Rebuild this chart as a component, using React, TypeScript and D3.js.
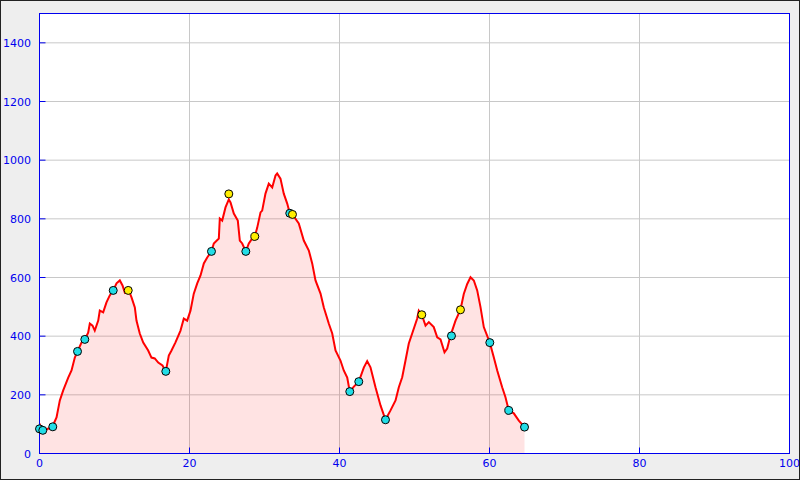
import * as d3 from "d3"
import React from "react"

// profile: distance (x) and elevation (y)
const distance = [
  0, 0.4, 0.93, 1.73, 2.27, 2.71, 3.16, 3.83, 4.27, 4.71, 5.07, 5.6, 6.04, 6.49, 6.71, 7.07, 7.37, 7.83,
  8.04, 8.49, 8.93, 9.37, 9.83, 10.27, 10.71, 11.07, 11.37, 11.83, 12.27, 12.71, 12.93, 13.37, 13.83,
  14.49, 14.93, 15.37, 15.83, 16.4, 16.84, 17.24, 17.6, 18.13, 18.8, 19.24, 19.69, 20.13, 20.57, 21.03,
  21.47, 21.91, 22.36, 22.93, 23.24, 23.91, 24.04, 24.36, 24.8, 25.24, 25.47, 25.91, 26.44, 26.71, 27.03,
  27.51, 27.91, 28.36, 28.71, 29.03, 29.47, 29.69, 30.13, 30.57, 31.03, 31.47, 31.69, 32.13, 32.57, 33.03,
  33.37, 33.73, 34.57, 35.24, 35.91, 36.36, 36.8, 37.47, 37.91, 38.57, 39.03, 39.47, 40.13, 40.57, 41.03,
  41.37, 41.91, 42.57, 43.24, 43.69, 44.13, 44.8, 45.47, 46.13, 46.8, 47.47, 47.91, 48.36, 48.8, 49.24,
  49.69, 50.36, 50.57, 50.97, 51.47, 51.91, 52.57, 53.03, 53.47, 54.0, 54.36, 54.8, 55.47, 56.13, 56.57,
  57.03, 57.47, 57.91, 58.36, 58.8, 59.24, 60.04, 60.57, 61.03, 61.69, 62.13, 62.57, 63.24, 63.91, 64.67,
]
const elevation = [
  102, 78, 82, 92, 123, 181, 215, 259, 283, 327, 348, 378, 389, 412, 443, 436, 419, 453,
  487, 481, 515, 539, 556, 580, 590, 573, 549, 560, 532, 498, 453, 409, 378,
  351, 327, 324, 310, 300, 280, 334, 351, 379, 419, 460, 453, 487, 545, 580,
  607, 648, 668, 689, 716, 733, 801, 794, 839, 866, 856, 818, 794, 726, 716,
  689, 716, 733, 740, 770, 822, 828, 886, 920, 907, 948, 955, 937, 886, 852,
  819, 815, 784, 726, 692, 648, 590, 545, 498, 443, 409, 351, 317, 283, 259,
  211, 228, 245, 293, 315, 294, 226, 164, 115, 147, 181, 226, 260, 317, 375,
  409, 460, 487, 473, 436, 448, 431, 396, 389, 345, 358, 402, 453, 490, 544,
  578, 601, 590, 556, 499, 431, 378, 328, 283, 226, 192, 147, 137, 112, 90,
]

// waypoint markers
const cyanX = [0, 0.44, 1.77, 5.07, 6.04, 9.83, 16.84, 22.93, 27.51, 33.37, 41.37, 42.57, 46.13, 54.93, 60.04, 62.57, 64.67]
const cyanY = [84, 79, 91, 348, 389, 556, 280, 689, 689, 819, 211, 245, 115, 401, 378, 147, 90]
const yellowX = [11.83, 25.24, 28.71, 33.73, 50.97, 56.13]
const yellowY = [556, 885, 740, 815, 473, 490]

const xTicks = [0, 20, 40, 60, 80, 100]
const yTicks = [0, 200, 400, 600, 800, 1000, 1200, 1400]

const width = 800
const height = 480

const drawProfile = (node: SVGSVGElement) => {
  const svg = d3.select(node)
  svg.selectAll("*").remove()

  const x = d3.scaleLinear([0, 100], [39.5, 789.5])
  const y = d3.scaleLinear([0, 1500], [453.5, 13.5])
  const font = "DejaVu Sans, sans-serif"
  const axisColor = "#0000ee"

  // page background and frame
  svg.append("rect")
    .attr("x", 0.5).attr("y", 0.5)
    .attr("width", width - 1).attr("height", height - 1)
    .attr("fill", "#eeeeee")
    .attr("stroke", "#222")

  svg.append("rect")
    .attr("x", x(0)).attr("y", y(1500))
    .attr("width", x(100) - x(0)).attr("height", y(0) - y(1500))
    .attr("fill", "#fff")

  // grid
  const grid = svg.append("g").attr("stroke", "#c8c8c8").attr("stroke-width", 1)
  grid.selectAll("line.h")
    .data(yTicks.filter(d => d > 0))
    .join("line")
    .attr("x1", x(0)).attr("x2", x(100))
    .attr("y1", d => y(d)).attr("y2", d => y(d))
  grid.selectAll("line.v")
    .data(xTicks.filter(d => d > 0 && d < 100))
    .join("line")
    .attr("y1", y(0)).attr("y2", y(1500))
    .attr("x1", d => x(d)).attr("x2", d => x(d))

  const pts = distance.map((d, i) => [d, elevation[i]] as [number, number])

  const area = d3.area<[number, number]>()
    .x(d => x(d[0]))
    .y0(y(0))
    .y1(d => y(d[1]))
  svg.append("path")
    .attr("d", area(pts))
    .attr("fill", "rgba(255,0,0,0.11)")

  const line = d3.line<[number, number]>()
    .x(d => x(d[0]))
    .y(d => y(d[1]))
  svg.append("path")
    .attr("d", line(pts))
    .attr("fill", "none")
    .attr("stroke", "#ff0000")
    .attr("stroke-width", 2)

  // axes frame
  svg.append("rect")
    .attr("x", x(0)).attr("y", y(1500))
    .attr("width", x(100) - x(0)).attr("height", y(0) - y(1500))
    .attr("fill", "none")
    .attr("stroke", axisColor)

  const ticks = svg.append("g").attr("stroke", axisColor)
  ticks.selectAll("line.y")
    .data(yTicks)
    .join("line")
    .attr("x1", x(0)).attr("x2", x(0) + 6)
    .attr("y1", d => y(d)).attr("y2", d => y(d))
  ticks.selectAll("line.x")
    .data(xTicks)
    .join("line")
    .attr("y1", y(0)).attr("y2", y(0) - 6)
    .attr("x1", d => x(d)).attr("x2", d => x(d))

  svg.append("g")
    .selectAll("text")
    .data(yTicks)
    .join("text")
    .attr("x", 31)
    .attr("y", d => y(d) + 4)
    .attr("text-anchor", "end")
    .attr("font-family", font)
    .attr("font-size", 11)
    .attr("fill", axisColor)
    .text(d => d)

  svg.append("g")
    .selectAll("text")
    .data(xTicks)
    .join("text")
    .attr("x", d => x(d))
    .attr("y", 467)
    .attr("text-anchor", "middle")
    .attr("font-family", font)
    .attr("font-size", 11)
    .attr("fill", axisColor)
    .text(d => d)

  // markers
  const marker = (xs: number[], ys: number[], color: string) =>
    svg.append("g")
      .selectAll("circle")
      .data(xs.map((d, i) => [d, ys[i]]))
      .join("circle")
      .attr("cx", d => x(d[0]))
      .attr("cy", d => y(d[1]))
      .attr("r", 4)
      .attr("fill", color)
      .attr("stroke", "#000")
      .attr("stroke-width", 1)

  marker(cyanX, cyanY, "#22dde6")
  marker(yellowX, yellowY, "#ffee00")
}

const App = () => {
  const ref = React.useRef<SVGSVGElement>(null)
  React.useEffect(() => {
    if (ref.current) drawProfile(ref.current)
  }, [])

  return (
    <svg
      ref={ref}
      width={width}
      height={height}
      style={{ position: "absolute", left: 0, top: 0, display: "block" }}
    />
  )
}

export default App
